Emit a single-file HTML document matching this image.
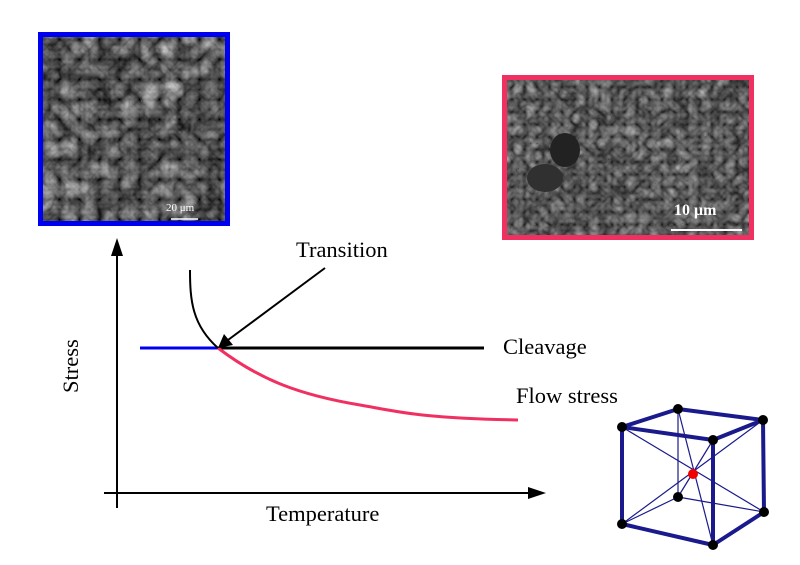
<!DOCTYPE html>
<html><head><style>body{margin:0;background:#fff}svg{display:block}</style></head><body>
<svg width="800" height="565" viewBox="0 0 800 565" xmlns="http://www.w3.org/2000/svg" font-family="Liberation Serif, serif">
<defs>
<filter id="n1" x="0" y="0" width="100%" height="100%" color-interpolation-filters="sRGB"><feTurbulence type="turbulence" baseFrequency="0.05" numOctaves="3" seed="3"/><feColorMatrix type="matrix" values="0.33 0.33 0.33 0 0  0.33 0.33 0.33 0 0  0.33 0.33 0.33 0 0  0 0 0 0 1"/><feComponentTransfer><feFuncR type="linear" slope="1.2" intercept="0.0"/><feFuncG type="linear" slope="1.2" intercept="0.0"/><feFuncB type="linear" slope="1.2" intercept="0.0"/></feComponentTransfer></filter>
<filter id="n2" x="0" y="0" width="100%" height="100%" color-interpolation-filters="sRGB"><feTurbulence type="turbulence" baseFrequency="0.08" numOctaves="2" seed="7"/><feColorMatrix type="matrix" values="0.33 0.33 0.33 0 0  0.33 0.33 0.33 0 0  0.33 0.33 0.33 0 0  0 0 0 0 1"/><feComponentTransfer><feFuncR type="linear" slope="1.0" intercept="0.1"/><feFuncG type="linear" slope="1.0" intercept="0.1"/><feFuncB type="linear" slope="1.0" intercept="0.1"/></feComponentTransfer></filter>
</defs>
<!-- left micrograph -->
<rect x="40" y="34" width="188" height="190" fill="#555" filter="url(#n1)"/>
<rect x="40.5" y="34.5" width="187" height="189" fill="none" stroke="#0000f0" stroke-width="5"/>
<text x="166" y="211" font-size="11" fill="#fff">20 μm</text>
<line x1="171" y1="219" x2="198" y2="219" stroke="#fff" stroke-width="1.5"/>
<!-- right micrograph -->
<rect x="504" y="77" width="248" height="160" fill="#666" filter="url(#n2)"/>
<ellipse cx="565" cy="150" rx="15" ry="17" fill="#222"/>
<ellipse cx="545" cy="178" rx="18" ry="14" fill="#303030"/>
<rect x="504.5" y="77.5" width="247" height="160" fill="none" stroke="#f03060" stroke-width="5"/>
<text x="674" y="215" font-size="16" font-weight="bold" fill="#fff">10 μm</text>
<line x1="671" y1="230" x2="742" y2="230" stroke="#fff" stroke-width="2"/>
<!-- axes -->
<line x1="117" y1="250" x2="117" y2="508" stroke="#000" stroke-width="2"/>
<polygon points="117,238 111,256 123,256" fill="#000"/>
<line x1="104" y1="493" x2="530" y2="493" stroke="#000" stroke-width="2"/>
<polygon points="546,493 528,487 528,499" fill="#000"/>
<!-- lines -->
<line x1="140" y1="348" x2="218" y2="348" stroke="#0000f0" stroke-width="3"/>
<line x1="218" y1="348" x2="484" y2="348" stroke="#000" stroke-width="3"/>
<path d="M190,270 C190,300 192,325 218,348" fill="none" stroke="#000" stroke-width="2"/>
<path d="M218,348 C260,380 300,395 360,405 C400,412 420,418 518,420" fill="none" stroke="#f03060" stroke-width="3"/>
<line x1="325" y1="268" x2="228" y2="340" stroke="#000" stroke-width="2"/>
<polygon points="218,348 224,334 233,345" fill="#000"/>
<!-- labels -->
<text x="296" y="257" font-size="22.5">Transition</text>
<text x="503" y="354" font-size="22.5">Cleavage</text>
<text x="516" y="403" font-size="22.5">Flow stress</text>
<text x="266" y="521" font-size="22.5">Temperature</text>
<text x="78" y="393" font-size="22.5" transform="rotate(-90 78 393)">Stress</text>
<!-- cube -->
<g stroke="#1a1a8c" fill="none">
<g stroke-width="1.2">
<line x1="622" y1="427" x2="764" y2="512"/><line x1="763" y1="420" x2="622" y2="524"/>
<line x1="678" y1="409" x2="713" y2="545"/><line x1="713" y1="440" x2="678" y2="497"/>
<line x1="678" y1="409" x2="678" y2="497"/><line x1="678" y1="497" x2="622" y2="524"/><line x1="678" y1="497" x2="764" y2="512"/>
</g>
<g stroke-width="4" stroke-linejoin="round">
<polyline points="622,427 678,409 763,420 713,440 622,427"/>
<line x1="622" y1="427" x2="622" y2="524"/><line x1="713" y1="440" x2="713" y2="545"/><line x1="763" y1="420" x2="764" y2="512"/>
<polyline points="622,524 713,545 764,512"/>
</g>
</g>
<g fill="#000">
<circle cx="678" cy="409" r="5"/><circle cx="763" cy="420" r="5"/><circle cx="622" cy="427" r="5"/><circle cx="713" cy="440" r="5"/>
<circle cx="678" cy="497" r="5"/><circle cx="764" cy="512" r="5"/><circle cx="622" cy="524" r="5"/><circle cx="713" cy="545" r="5"/>
</g>
<circle cx="693" cy="474" r="5" fill="#f00000"/>
</svg>
</body></html>
